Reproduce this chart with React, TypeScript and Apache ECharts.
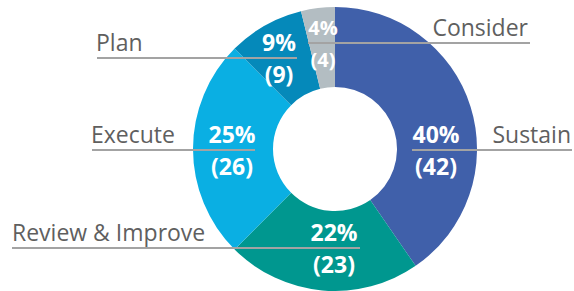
import React, { useEffect, useRef } from 'react';
import * as echarts from 'echarts';

const categories = ['Sustain', 'Review & Improve', 'Execute', 'Plan', 'Consider'];
const counts = [42, 23, 26, 9, 4];
const colors = ['#4060aa', '#00978f', '#0aafe3', '#0589ba', '#b3bdc2'];

// label placement (layout only)
const leaders = [
  { y: 150, x1: 412, x2: 572, nameX: 571, align: 'right', pctX: 436 },
  { y: 248, x1: 12, x2: 360, nameX: 12, align: 'left', pctX: 334 },
  { y: 150, x1: 92, x2: 255, nameX: 91, align: 'left', pctX: 232 },
  { y: 58, x1: 97, x2: 297, nameX: 96, align: 'left', pctX: 279 },
  { y: 43, x1: 308, x2: 530, nameX: 528, align: 'right', pctX: 323 },
];

const FONT = "'Open Sans', 'Noto Sans', sans-serif";

export default function App() {
  const ref = useRef<HTMLDivElement>(null);
  useEffect(() => {
    document.body.style.margin = '0';
    const chart = echarts.init(ref.current!, null, { renderer: 'svg' });
    const center = [335, 149];
    const radius = [62, 142];
    chart.setOption({
      animation: false,
      series: [
        {
          type: 'pie',
          center,
          radius,
          startAngle: 90,
          clockwise: true,
          percentPrecision: 0,
          avoidLabelOverlap: false,
          silent: true,
          data: categories.map((name, i) => ({
            name,
            value: counts[i],
            itemStyle: { color: colors[i] },
            label: i === 4 ? { fontSize: 20 } : undefined,
          })),
          label: {
            show: true,
            position: 'inside',
            formatter: '{d}%\n({c})',
            color: '#ffffff',
            fontWeight: 'bold',
            fontSize: 23,
            lineHeight: 32,
            fontFamily: FONT,
          },
          labelLine: { show: false },
          labelLayout: (p: any) => {
            const L = leaders[p.dataIndex];
            return { x: L.pctX, y: L.y, align: 'center', verticalAlign: 'middle' };
          },
        },
        {
          type: 'pie',
          center,
          radius,
          startAngle: 90,
          clockwise: true,
          avoidLabelOverlap: false,
          silent: true,
          z: 3,
          data: categories.map((name, i) => ({ name, value: counts[i] })),
          itemStyle: { color: 'rgba(0,0,0,0)' },
          label: {
            show: true,
            position: 'outside',
            formatter: '{b}',
            color: '#5f5f5f',
            fontSize: 23,
            fontFamily: FONT,
          },
          labelLine: {
            show: true,
            smooth: false,
            lineStyle: { color: '#a3a3a3', width: 2 },
          },
          labelLayout: (p: any) => {
            const L = leaders[p.dataIndex];
            return {
              x: L.nameX,
              y: L.y - 5,
              align: L.align,
              verticalAlign: 'bottom',
              labelLinePoints: [
                [L.x1, L.y],
                [(L.x1 + L.x2) / 2, L.y],
                [L.x2, L.y],
              ],
            };
          },
        },
      ],
    });
    return () => chart.dispose();
  }, []);
  return <div ref={ref} style={{ width: 574, height: 291 }} />;
}
